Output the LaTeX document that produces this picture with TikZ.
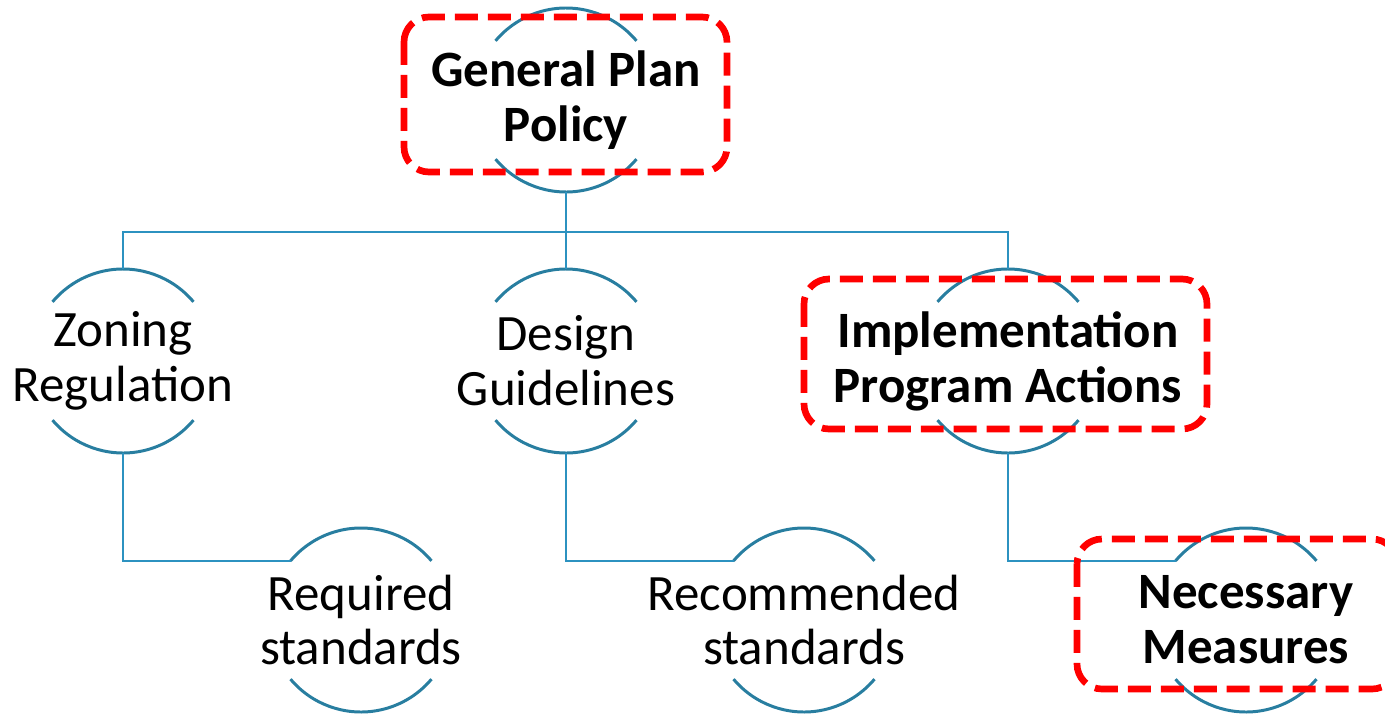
\documentclass[tikz,border=0pt]{standalone}
\usepackage{fontspec}
\setmainfont{Carlito}
\usetikzlibrary{calc}

\definecolor{ringblue}{RGB}{40,126,160}
\definecolor{linkblue}{RGB}{44,146,192}

\begin{document}
\begin{tikzpicture}[
    x=0.02cm, y=0.02cm,
    ring/.style={draw=ringblue, line width=1.7pt},
    link/.style={draw=linkblue, line width=1.4pt},
    label/.style={align=center, inner sep=0pt, font=\fontsize{29}{31.2}\selectfont},
    keylabel/.style={label, font=\fontsize{29}{31.2}\selectfont\bfseries},
    highlight/.style={draw=red, line width=3.8pt, rounded corners=0.5cm, dash pattern=on 0.46cm off 0.2cm}
]
\useasboundingbox (0,0) rectangle (1385,-713);

% Top: general plan
\node[keylabel] (gp) at (566,-100) {General Plan\\Policy};

% Middle row
\node[label] (zoning) at (123,-361) {Zoning\\Regulation};
\node[label] (design) at (566,-361) {Design\\Guidelines};
\node[keylabel] (impl) at (1008,-361) {Implementation\\Program Actions};

% Bottom row
\node[label] (req) at (361,-620) {Required\\standards};
\node[label] (rec) at (804,-620) {Recommended\\standards};
\node[keylabel] (nec) at (1246,-620) {Necessary\\Measures};

% Arcs above and below each label
\foreach \n in {gp,zoning,design,impl,req,rec,nec} {
    \draw[ring] (\n.center) ++(40:92) arc[start angle=40, end angle=140, radius=92];
    \draw[ring] (\n.center) ++(220:92) arc[start angle=220, end angle=320, radius=92];
}

% Connections top -> middle
\draw[link] ($(gp)+(0,-92)$) -- ($(design)+(0,92)$);
\draw[link] ($(gp)+(0,-92)$) -- ++(0,-40) -| ($(zoning)+(0,92)$);
\draw[link] ($(gp)+(0,-92)$) -- ++(0,-40) -| ($(impl)+(0,92)$);

% Connections middle -> bottom
\draw[link] ($(zoning)+(0,-92)$) |- ($(req)+(140:92)$);
\draw[link] ($(design)+(0,-92)$) |- ($(rec)+(140:92)$);
\draw[link] ($(impl)+(0,-92)$) |- ($(nec)+(140:92)$);

% Highlight frames
\draw[highlight] (404,-17) rectangle (727,-172);
\draw[highlight] (804,-279) rectangle (1207,-429);
\draw[highlight] (1077,-539) rectangle (1397,-689);

\end{tikzpicture}
\end{document}
